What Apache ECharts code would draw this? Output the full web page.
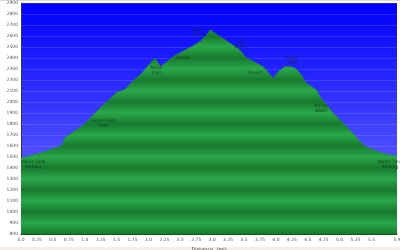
<!DOCTYPE html>
<html><head><meta charset="utf-8">
<script src="https://cdn.jsdelivr.net/npm/echarts@6/dist/echarts.min.js"></script>
<style>html,body{margin:0;padding:0;background:#fff}#c{width:400px;height:250px}</style>
</head><body><div id="c"></div>
<script>
// Elevation profile (distance in miles, elevation in feet)
const distance = [0.0, 0.30, 0.59, 0.65, 0.68, 0.71, 0.98, 1.24, 1.51, 1.62, 1.745, 1.87, 2.03, 2.105, 2.185, 2.26, 2.39, 2.63, 2.68, 2.81, 2.915, 2.97, 3.01, 3.12, 3.28, 3.43, 3.54, 3.65, 3.80, 3.91, 3.96, 4.04, 4.14, 4.22, 4.30, 4.38, 4.48, 4.64, 4.69, 4.90, 5.06, 5.21, 5.37, 5.475, 5.68, 5.9];
const elevation = [1490, 1536, 1593, 1609, 1672, 1681, 1791, 1945, 2092, 2110, 2183, 2247, 2353, 2399, 2322, 2353, 2413, 2490, 2505, 2550, 2611, 2657, 2639, 2596, 2536, 2475, 2399, 2368, 2322, 2247, 2217, 2277, 2322, 2322, 2308, 2262, 2171, 2110, 2049, 1898, 1806, 1715, 1609, 1578, 1533, 1508];

// Waypoint annotations
const waypointNames = ['Water Tank\nParking', 'Seven Falls\nTrail', 'Mesa\nTrail', 'Desert', 'Chalk\nDome', 'Old\nRoad', 'Desert', 'Mesa\nTrail', 'Rocky\nWash', 'Water Tank\nParking'];
const waypointDist = [0.19, 1.29, 2.12, 2.54, 2.78, 3.44, 3.67, 4.25, 4.71, 5.79];
const waypointElev = [1431, 1805, 2288, 2399, 2636, 2520, 2268, 2376, 1939, 1434];

// Axis settings
const xMin = 0, xMax = 5.9, xStep = 0.25;
const yMin = 800, yMax = 2900, yStep = 100;
const stripeElevations = [800, 1000, 1200, 1400, 1600, 1800, 2000, 2200, 2400, 2600, 2800];

const chart = echarts.init(document.getElementById('c'), null, {renderer: 'canvas'});
const gridTop = 3, gridBottom = 16, H = 250;
const pxTop = gridTop, pxBot = H - gridBottom;

// striped green gradient (global coordinates)
const dark = '#17792f', light = '#2aa84a';
const stops = [];
stops.push({offset: 0, color: light});
stripeElevations.slice().reverse().forEach(e => {
  const t = (yMax - e) / (yMax - yMin);
  const h = 100 / (yMax - yMin);
  if (t - h > 0) stops.push({offset: t - h, color: light});
  stops.push({offset: Math.min(t, 1), color: dark});
  if (t + h < 1) stops.push({offset: t + h, color: light});
});
stops.sort((a, b) => a.offset - b.offset);
const greenFill = new echarts.graphic.LinearGradient(0, pxTop, 0, pxBot, stops, true);

const font = 'DejaVu Sans';
chart.setOption({
  animation: false,
  backgroundColor: '#ffffff',
  grid: {
    left: 21, right: 3, top: gridTop, bottom: gridBottom, show: true,
    containLabel: false, outerBoundsMode: 'none',
    borderWidth: 0,
    backgroundColor: new echarts.graphic.LinearGradient(0, 0, 0, 1, [
      {offset: 0, color: '#0000fb'},
      {offset: 1, color: '#7878ff'}
    ])
  },
  xAxis: {
    type: 'value', min: xMin, max: xMax, interval: xStep,
    name: 'Distance  (mi)', nameLocation: 'middle', nameGap: 9,
    nameTextStyle: {fontSize: 5, color: '#444', fontFamily: font},
    axisLine: {show: true, lineStyle: {color: '#0b5a1c', width: 1}},
    axisTick: {show: false},
    splitLine: {show: false},
    axisLabel: {
      fontSize: 4.5, color: '#555', margin: 3, fontFamily: font,
      formatter: v => {
        if (Math.abs(v - 5.75) < 1e-6) return '';
        if (Math.abs(v - Math.round(v)) < 1e-6) return v.toFixed(1);
        return String(Math.round(v * 100) / 100);
      }
    }
  },
  yAxis: {
    type: 'value', min: yMin, max: yMax, interval: yStep,
    name: 'Elevation  (ft)', nameLocation: 'middle', nameGap: 15, nameRotate: 90,
    nameTextStyle: {fontSize: 5, color: '#444', fontFamily: font},
    axisLine: {show: true, lineStyle: {color: '#333', width: 1}},
    axisTick: {show: false},
    splitLine: {show: true, lineStyle: {color: 'rgba(255,255,255,0.12)', width: 1}},
    axisLabel: {fontSize: 4.5, color: '#555', margin: 3, fontFamily: font, formatter: v => String(v)}
  },
  series: [
    {
      type: 'line',
      data: distance.map((d, i) => [d, elevation[i]]),
      showSymbol: false,
      lineStyle: {width: 0.6, color: '#1f8c3c'},
      areaStyle: {color: greenFill, opacity: 1},
      z: 2
    },
    {
      type: 'scatter',
      data: waypointDist.map((d, i) => ({value: [d, waypointElev[i]], name: waypointNames[i]})),
      symbolSize: 0,
      label: {
        show: true, position: 'inside', formatter: p => p.name,
        fontSize: 4.5, lineHeight: 5, color: '#1a2a1a', fontFamily: font, align: 'center'
      },
      z: 5
    }
  ],
  graphic: [
    {type: 'rect', shape: {x: 0, y: 247, width: 400, height: 3}, style: {fill: '#f3efe2'}, silent: true},
    {type: 'rect', shape: {x: 0, y: 0, width: 400, height: 1}, style: {fill: '#d8d8d8'}, silent: true}
  ]
});
</script></body></html>
